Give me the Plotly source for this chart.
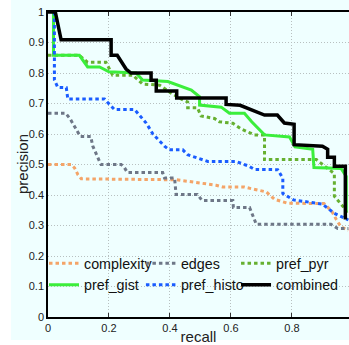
import plotly.graph_objects as go

# ---- data ----
complexity_x = [0, 0.076, 0.087, 0.098, 0.109, 0.398, 0.42, 0.458, 0.502, 0.551, 0.573, 0.644, 0.666, 0.716,
                0.743, 0.775, 0.786, 0.905, 0.931, 0.944, 0.961, 0.985]
complexity_y = [0.5, 0.5, 0.489, 0.467, 0.453, 0.452, 0.45, 0.445, 0.439, 0.432, 0.426, 0.426, 0.421, 0.41,
                0.386, 0.378, 0.373, 0.372, 0.346, 0.322, 0.295, 0.285]

edges_x = [0, 0.058, 0.073, 0.095, 0.106, 0.14, 0.147, 0.169, 0.174, 0.24, 0.251, 0.26, 0.376, 0.382, 0.415,
           0.418, 0.42, 0.49, 0.505, 0.606, 0.608, 0.661, 0.671, 0.683, 0.928, 0.95, 0.985]
edges_y = [0.668, 0.668, 0.649, 0.611, 0.592, 0.592, 0.56, 0.51, 0.5, 0.5, 0.489, 0.474, 0.474, 0.456, 0.456,
           0.423, 0.402, 0.402, 0.382, 0.382, 0.359, 0.359, 0.334, 0.304, 0.304, 0.29, 0.29]

pyr_x = [0, 0.103, 0.13, 0.19, 0.212, 0.278, 0.31, 0.366, 0.388, 0.404, 0.442, 0.458, 0.458, 0.49, 0.502,
         0.546, 0.562, 0.606, 0.633, 0.677, 0.71, 0.71, 0.88, 0.9, 0.939, 0.939, 0.972, 0.983]
pyr_y = [0.858, 0.858, 0.835, 0.835, 0.793, 0.793, 0.764, 0.76, 0.745, 0.734, 0.712, 0.705, 0.686, 0.686, 0.659,
         0.651, 0.64, 0.635, 0.617, 0.597, 0.597, 0.516, 0.516, 0.5, 0.47, 0.396, 0.357, 0.335]

gist_x = [0.018, 0.018, 0.103, 0.13, 0.169, 0.2, 0.289, 0.31, 0.393, 0.47, 0.497, 0.497, 0.568, 0.595, 0.644,
          0.668, 0.71, 0.792, 0.81, 0.868, 0.872, 0.961, 0.978, 0.978]
gist_y = [1, 0.858, 0.858, 0.82, 0.82, 0.804, 0.80, 0.777, 0.772, 0.744, 0.722, 0.695, 0.688, 0.668, 0.668,
          0.64, 0.597, 0.59, 0.558, 0.55, 0.49, 0.487, 0.461, 0.345]

histo_x = [0.021, 0.021, 0.032, 0.06, 0.065, 0.185, 0.196, 0.218, 0.284, 0.31, 0.322, 0.344, 0.382, 0.398,
           0.442, 0.458, 0.502, 0.524, 0.617, 0.639, 0.66, 0.677, 0.753, 0.77, 0.77, 0.805, 0.9, 0.939, 0.972, 0.985]
histo_y = [1, 0.777, 0.753, 0.752, 0.715, 0.715, 0.703, 0.68, 0.68, 0.651, 0.636, 0.6, 0.56, 0.548,
           0.548, 0.532, 0.516, 0.51, 0.51, 0.502, 0.494, 0.484, 0.483, 0.455, 0.405, 0.384, 0.37, 0.34, 0.325, 0.318]

combined_x = [0, 0.024, 0.043, 0.207, 0.207, 0.227, 0.256, 0.272, 0.338, 0.338, 0.355, 0.355, 0.422, 0.422,
              0.584, 0.584, 0.63, 0.71, 0.752, 0.775, 0.807, 0.807, 0.9, 0.917, 0.917, 0.939, 0.939, 0.975, 0.975]
combined_y = [1, 1, 0.909, 0.909, 0.858, 0.858, 0.813, 0.80, 0.80, 0.776, 0.776, 0.741, 0.741, 0.718,
              0.718, 0.697, 0.694, 0.662, 0.662, 0.636, 0.632, 0.565, 0.56, 0.55, 0.524, 0.524, 0.494, 0.494, 0.32]

x_ticks = [0, 0.2, 0.4, 0.6, 0.8]
x_tick_labels = ["0", "0.2", "0.4", "0.6", "0.8"]
y_ticks = [0, 0.1, 0.2, 0.3, 0.4, 0.5, 0.6, 0.7, 0.8, 0.9, 1.0]
y_tick_labels = ["0", "0.1", "0.2", "0.3", "0.4", "0.5", "0.6", "0.7", "0.8", "0.9", "1"]

# (name, x, y, colour, dash, width, legend column)
series = [
    ("complexity", complexity_x, complexity_y, "#F4A468", "3.5px,3px", 3, "legend"),
    ("edges", edges_x, edges_y, "#6E7787", "3.5px,3px", 3, "legend2"),
    ("pref_pyr", pyr_x, pyr_y, "#66B030", "3.5px,3px", 3, "legend3"),
    ("pref_gist", gist_x, gist_y, "#3BEE3B", "solid", 3, "legend"),
    ("pref_histo", histo_x, histo_y, "#1A5CFF", "3.5px,3px", 3, "legend2"),
    ("combined", combined_x, combined_y, "#000000", "solid", 3.5, "legend3"),
]

AZURE = "#EFFFFF"
FONT = "Liberation Sans, Arial, Helvetica, sans-serif"

fig = go.Figure()
for name, xs, ys, color, dash, w, leg in series:
    fig.add_trace(go.Scatter(x=xs, y=ys, mode="lines", name=name, legend=leg,
                             line=dict(color=color, dash=dash, width=w)))

def legend_col(xpos):
    return dict(orientation="v", x=xpos, xanchor="left", y=0.228, yanchor="top",
                bgcolor="rgba(0,0,0,0)", borderwidth=0, itemwidth=30, indentation=-4,
                font=dict(family=FONT, size=14.3, color="#111111"),
                traceorder="normal", tracegroupgap=0)

fig.update_layout(
    width=349, height=345,
    margin=dict(l=48, r=0, t=12, b=28, autoexpand=False),
    paper_bgcolor="white",
    plot_bgcolor=AZURE,
    font=dict(family=FONT, size=11, color="#222222"),
    showlegend=True,
    legend=legend_col(0.0),
    legend2=legend_col(0.322),
    legend3=legend_col(0.638),
    shapes=[
        dict(type="rect", xref="paper", yref="paper", layer="below",
             x0=(11 - 48) / 301, x1=1.05, y0=-(340 - 317) / 305, y1=1.1,
             fillcolor=AZURE, line=dict(width=0)),
        # legend backing box that hides the grid behind the legend
        dict(type="rect", xref="paper", yref="paper", layer="between",
             x0=(60 - 48.5) / 301, x1=1.02, y0=(317 - 295) / 305, y1=(317 - 257) / 305,
             fillcolor=AZURE, line=dict(width=0)),
    ],
    annotations=[dict(text="precision", xref="paper", yref="paper",
                      x=(23 - 48.5) / 301, y=0.5, xanchor="center", yanchor="middle",
                      textangle=-90, showarrow=False,
                      font=dict(family=FONT, size=15, color="#222222"))],
)

fig.update_xaxes(
    range=[0, 0.987], tickvals=x_ticks, ticktext=x_tick_labels,
    showline=True, linecolor="black", linewidth=1.5, mirror="ticks",
    ticks="inside", ticklen=4, tickcolor="#333333",
    showgrid=True, gridcolor="#B8C0C0", griddash="1px,2px", gridwidth=1,
    zeroline=False, tickfont=dict(size=11),
    title=dict(text="recall", font=dict(size=15), standoff=6),
)
fig.update_yaxes(
    range=[0, 1], tickvals=y_ticks, ticktext=y_tick_labels,
    showline=True, linecolor="black", linewidth=1.5, mirror=False,
    ticks="", showgrid=True, gridcolor="#B8C0C0", griddash="1px,2px", gridwidth=1,
    zeroline=False, tickfont=dict(size=11),
)

fig.write_html("out.html", config={"displayModeBar": False},
               post_script="document.body.style.margin='0';document.body.style.overflow='hidden';")
